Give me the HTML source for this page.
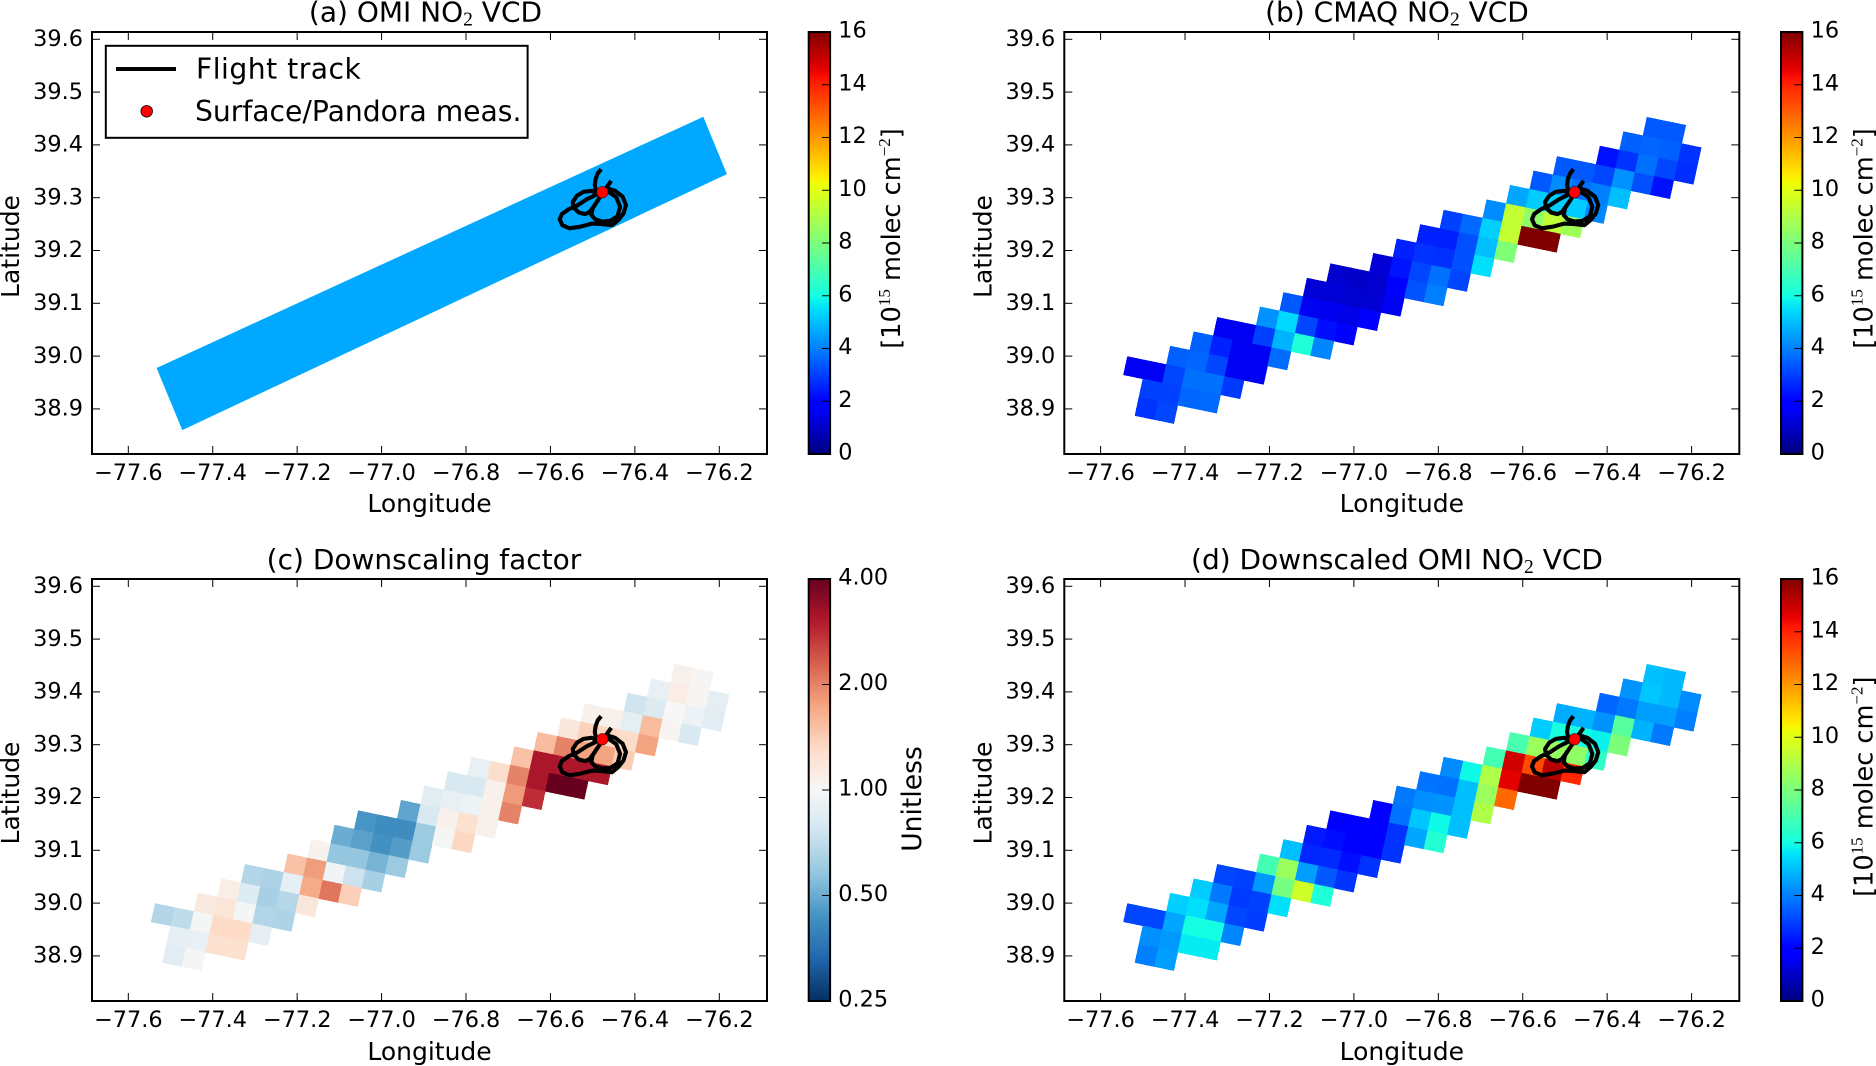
<!DOCTYPE html>
<html lang="en">
<head>
<meta charset="utf-8">
<title>OMI and CMAQ NO2 VCD downscaling maps</title>
<style>
html,body{margin:0;padding:0;background:#fff;width:1876px;height:1066px;overflow:hidden}
svg{display:block}
text{font-family:"DejaVu Sans","Liberation Sans",sans-serif;fill:#000}
.tick{font-size:22.4px}
.label{font-size:25px}
.cblabel{font-size:25.6px}
.unitless{font-size:26.6px}
.title{font-size:28px}
.legend{font-size:28.2px}
.cm{font-family:"Liberation Serif",serif}
</style>
</head>
<body>
<svg id="figure" xmlns="http://www.w3.org/2000/svg" width="1876" height="1066" viewBox="0 0 1876 1066">
  <defs>
    <linearGradient id="jet-gradient" x1="0" y1="1" x2="0" y2="0"></linearGradient>
    <linearGradient id="rdbu-gradient" x1="0" y1="1" x2="0" y2="0"></linearGradient>
  </defs>
  <rect width="1876" height="1066" fill="#fff"/>

  <g id="panel-a"></g>
  <g id="panel-b"></g>
  <g id="panel-c"></g>
  <g id="panel-d"></g>

  <text class="title" x="425.5" y="21.7" text-anchor="middle">(a) OMI NO<tspan class="cm" font-size="19.5" dy="4">2</tspan><tspan dy="-4"> VCD</tspan></text>
  <text class="title" x="1397" y="21.7" text-anchor="middle">(b) CMAQ NO<tspan class="cm" font-size="19.5" dy="4">2</tspan><tspan dy="-4"> VCD</tspan></text>
  <text class="title" x="424" y="569" text-anchor="middle">(c) Downscaling factor</text>
  <text class="title" x="1397" y="569" text-anchor="middle">(d) Downscaled OMI NO<tspan class="cm" font-size="19.5" dy="4">2</tspan><tspan dy="-4"> VCD</tspan></text>

  <text class="label" x="429.5" y="512" text-anchor="middle">Longitude</text>
  <text class="label" x="1401.8" y="512" text-anchor="middle">Longitude</text>
  <text class="label" x="429.5" y="1060" text-anchor="middle">Longitude</text>
  <text class="label" x="1401.8" y="1060" text-anchor="middle">Longitude</text>

  <text class="label" transform="translate(19,246.5) rotate(-90)" text-anchor="middle">Latitude</text>
  <text class="label" transform="translate(991.3,246.5) rotate(-90)" text-anchor="middle">Latitude</text>
  <text class="label" transform="translate(19,793) rotate(-90)" text-anchor="middle">Latitude</text>
  <text class="label" transform="translate(991.3,793) rotate(-90)" text-anchor="middle">Latitude</text>

  <text class="cblabel" transform="translate(900,238.5) rotate(-90)" text-anchor="middle">[10<tspan class="cm" font-size="17" dy="-10">15</tspan><tspan dy="10"> molec cm</tspan><tspan class="cm" font-size="17" dy="-10">−2</tspan><tspan dy="10">]</tspan></text>
  <text class="cblabel" transform="translate(1872.3,238.5) rotate(-90)" text-anchor="middle">[10<tspan class="cm" font-size="17" dy="-10">15</tspan><tspan dy="10"> molec cm</tspan><tspan class="cm" font-size="17" dy="-10">−2</tspan><tspan dy="10">]</tspan></text>
  <text class="unitless" transform="translate(921,799) rotate(-90)" text-anchor="middle">Unitless</text>
  <text class="cblabel" transform="translate(1872.3,786.7) rotate(-90)" text-anchor="middle">[10<tspan class="cm" font-size="17" dy="-10">15</tspan><tspan dy="10"> molec cm</tspan><tspan class="cm" font-size="17" dy="-10">−2</tspan><tspan dy="10">]</tspan></text>

  <g id="legend">
    <rect x="105.8" y="45.8" width="421.8" height="92" fill="#fff" stroke="#000" stroke-width="2"/>
    <line x1="116" y1="69" x2="176" y2="69" stroke="#000" stroke-width="4"/>
    <text class="legend" x="196" y="78.3" letter-spacing="0.5">Flight track</text>
    <circle cx="146.7" cy="111.3" r="5.8" fill="#f00" stroke="#000" stroke-width="0.8"/>
    <text class="legend" x="195" y="121">Surface/Pandora meas.</text>
  </g>
</svg>

<script>
// ----- Axis ticks -----
const lonTicks = [-77.6, -77.4, -77.2, -77.0, -76.8, -76.6, -76.4, -76.2];
const latTicks = [38.9, 39.0, 39.1, 39.2, 39.3, 39.4, 39.5, 39.6];
const vcdTicks = [0, 2, 4, 6, 8, 10, 12, 14, 16];
const factorTicks = [0.25, 0.5, 1, 2, 4];
const factorTickLabels = ["0.25", "0.50", "1.00", "2.00", "4.00"];

// ----- OMI pixel (panel a) -----
const omiValue = [4.65];
const omiCornerLon = [-77.533, -77.472, -76.182, -76.238];
const omiCornerLat = [38.9775, 38.8598, 39.3446, 39.4532];

// ----- Flight track & surface site -----
const trackLon = [-76.480,-76.488,-76.493,-76.495,-76.492,-76.487,-76.502,-76.522,-76.537,-76.547,-76.545,-76.533,-76.518,-76.507,-76.498,-76.486,-76.477,-76.494,-76.514,-76.537,-76.557,-76.573,-76.578,-76.572,-76.555,-76.529,-76.502,-76.478,-76.454,-76.439,-76.427,-76.421,-76.429,-76.447,-76.466,-76.477,-76.462,-76.444,-76.435,-76.441,-76.458,-76.478,-76.494,-76.503,-76.500,-76.486,-76.470,-76.456];
const trackLat = [39.354,39.346,39.335,39.324,39.313,39.307,39.313,39.311,39.304,39.292,39.281,39.272,39.269,39.273,39.283,39.297,39.310,39.305,39.297,39.285,39.278,39.269,39.259,39.248,39.242,39.245,39.251,39.250,39.248,39.258,39.270,39.286,39.302,39.313,39.318,39.310,39.311,39.301,39.283,39.265,39.256,39.255,39.259,39.267,39.280,39.297,39.316,39.332];
const siteLon = [-76.477];
const siteLat = [39.3103];

// ----- 4 km model grid: first populated row of each column, west to east -----
const firstColumn = -18;
const columnStartRow = [11,11,10,9,8,8,7,6,5,4,4,3,2,1,0,0,-1,-2,-3,-4,-4,-5,-6,-7,-7,-6];

// CMAQ NO2 VCD, 10^15 molec cm^-2 (panel b)
const cmaqValues = [
  [1.6],
  [1.6,3.0,2.8],
  [3.5,3.1,3.0,3.1],
  [3.5,3.6,3.75,3.6],
  [1.6,2.5,3.1,3.75,3.65],
  [1.6,1.6,1.6,2.9],
  [4.3,3.0,1.6,1.6],
  [3.4,5.4,4.8,3.7],
  [1.2,1.6,3.1,6.2],
  [1.1,1.2,1.55,2.2,4.1],
  [1.0,1.1,1.45,1.75],
  [1.2,1.1,1.15,1.9],
  [2.5,2.3,1.9,1.6],
  [2.5,2.8,3.1,3.3],
  [3.0,2.5,2.75,3.75,4.0],
  [3.65,3.25,3.25,3.1],
  [4.2,5.25,5.0,5.5],
  [4.6,9.4,9.4,8.1],
  [3.4,5.2,8.4,16],
  [3.4,4.2,5.2,9.3,16],
  [3.4,3.75,5.2,8.7],
  [2.25,3.1,4.0,4.1],
  [3.5,2.8,4.3,5.0],
  [3.4,3.6,3.75,3.25],
  [3.4,3.5,3.1,2.25],
  [2.8,2.7]
];

// Downscaling factor, unitless (panel c)
const factorValues = [
  [0.66],
  [0.70,0.88,0.85],
  [1.15,0.98,0.90,0.98],
  [1.10,1.20,1.32,1.25],
  [0.66,0.83,0.98,1.32,1.25],
  [0.65,0.63,0.66,0.87],
  [1.50,0.88,0.67,0.65],
  [1.05,1.80,1.70,1.17],
  [0.50,0.58,0.95,2.10],
  [0.44,0.47,0.58,0.74,1.40],
  [0.42,0.43,0.52,0.63],
  [0.48,0.42,0.46,0.60],
  [0.85,0.80,0.60,0.60],
  [0.80,0.90,1.07,0.98],
  [0.90,0.80,0.93,1.25,1.35],
  [1.28,1.07,1.07,1.07],
  [1.50,2.00,1.82,2.00],
  [1.55,3.10,3.10,2.80],
  [1.17,2.00,3.10,4.00],
  [1.07,1.38,1.75,3.10,4.00],
  [1.07,1.35,1.75,3.10],
  [0.75,0.87,1.30,1.42],
  [0.90,0.82,1.55,1.75],
  [1.07,1.10,1.00,1.03],
  [1.02,1.02,0.92,0.80],
  [0.87,0.85]
];

// Downscaled OMI NO2 VCD, 10^15 molec cm^-2 (panel d)
const downscaledValues = [
  [3.1],
  [3.1,4.25,4.0],
  [5.25,4.6,4.4,4.5],
  [5.2,5.5,6.0,5.7],
  [3.1,3.9,4.6,6.0,5.7],
  [3.0,2.9,3.1,4.1],
  [6.9,4.4,3.0,2.95],
  [5.0,8.6,7.9,5.5],
  [2.4,2.6,4.5,9.6],
  [1.9,2.2,2.65,3.4,6.2],
  [1.85,1.9,2.2,2.8],
  [2.0,1.9,2.0,2.8],
  [3.9,3.8,2.8,2.8],
  [3.8,4.25,5.1,4.6],
  [4.2,3.75,4.3,5.9,6.3],
  [5.9,5.0,5.0,5.0],
  [6.9,9.0,8.6,9.0],
  [7.0,14.9,14.6,12.8],
  [5.2,8.6,13.3,16],
  [4.7,6.1,8.5,15.2,16],
  [4.8,6.0,8.4,13.9],
  [3.6,4.3,5.8,6.5],
  [4.3,3.9,7.3,8.0],
  [5.0,5.1,4.5,4.8],
  [4.9,4.9,4.5,3.9],
  [4.2,4.0]
];

// Grid geometry in geographic units
const gridOrigin = {lon: -76.6026, lat: 39.2464};
const gridStepColumn = {lon: 0.04609, lat: -0.00757};
const gridStepRow = {lon: -0.00948, lat: -0.03485};

// Axis limits
const lonMin = -77.686, lonMax = -76.087;
const latMin = 38.8146, latMax = 39.6138;
const vcdMin = 0, vcdMax = 16;
const factorMin = 0.25, factorMax = 4;

// ----- Layout -----
const plotW = 675, plotH = 422;
const NS = "http://www.w3.org/2000/svg";
const fig = document.getElementById("figure");

function make(tag, attrs, parent) {
  const e = document.createElementNS(NS, tag);
  for (const k in attrs) e.setAttribute(k, attrs[k]);
  parent.appendChild(e);
  return e;
}

// ----- Colormaps -----
function lerp(pts, v) {
  if (v <= pts[0][0]) return pts[0][1];
  for (let i = 1; i < pts.length; i++) {
    if (v <= pts[i][0]) {
      const f = (v - pts[i-1][0]) / (pts[i][0] - pts[i-1][0]);
      return pts[i-1][1] + f * (pts[i][1] - pts[i-1][1]);
    }
  }
  return pts[pts.length-1][1];
}
const jetR = [[0,0],[0.35,0],[0.66,1],[0.89,1],[1,0.5]];
const jetG = [[0,0],[0.125,0],[0.375,1],[0.64,1],[0.91,0],[1,0]];
const jetB = [[0,0.5],[0.11,1],[0.34,1],[0.65,0],[1,0]];
function jet(t) {
  const c = [jetR, jetG, jetB].map(p => Math.round(255 * lerp(p, t)));
  return "rgb(" + c.join(",") + ")";
}
const rdbuStops = [[5,48,97],[33,102,172],[67,147,195],[146,197,222],[209,229,240],[247,247,247],[253,219,199],[244,165,130],[214,96,77],[178,24,43],[103,0,31]];
function rdbu(t) {
  const s = Math.max(0, Math.min(0.99999, t)) * 10;
  const i = Math.floor(s), f = s - i;
  const c = [0,1,2].map(k => Math.round(rdbuStops[i][k] + f * (rdbuStops[i+1][k] - rdbuStops[i][k])));
  return "rgb(" + c.join(",") + ")";
}
function vcdNorm(v) { return (v - vcdMin) / (vcdMax - vcdMin); }
function factorNorm(v) { return Math.log(v / factorMin) / Math.log(factorMax / factorMin); }

const jetGrad = document.getElementById("jet-gradient");
const rdbuGrad = document.getElementById("rdbu-gradient");
for (let k = 0; k <= 64; k++) {
  const t = k / 64;
  make("stop", {offset: t, "stop-color": jet(t)}, jetGrad);
  make("stop", {offset: t, "stop-color": rdbu(t)}, rdbuGrad);
}

// ----- Panel renderer -----
function drawPanel(groupId, left, top, kind, values) {
  const g = document.getElementById(groupId);
  const xScale = lon => left + (lon - lonMin) / (lonMax - lonMin) * plotW;
  const yScale = lat => top + (latMax - lat) / (latMax - latMin) * plotH;

  // data marks
  if (kind === "omi") {
    const pts = omiCornerLon.map((lon, i) => xScale(lon).toFixed(1) + "," + yScale(omiCornerLat[i]).toFixed(1)).join(" ");
    const pixel = make("polygon", {points: pts, fill: jet(vcdNorm(omiValue[0]))}, g);
    
    
  } else {
    const corner = (c, r) => {
      const lon = gridOrigin.lon + c * gridStepColumn.lon + r * gridStepRow.lon;
      const lat = gridOrigin.lat + c * gridStepColumn.lat + r * gridStepRow.lat;
      return xScale(lon).toFixed(2) + "," + yScale(lat).toFixed(2);
    };
    values.forEach((col, ci) => {
      const c = firstColumn + ci;
      col.forEach((v, ri) => {
        const r = columnStartRow[ci] + ri;
        const fill = kind === "factor" ? rdbu(factorNorm(v)) : jet(vcdNorm(v));
        const cell = make("polygon", {
          points: [corner(c, r), corner(c + 1, r), corner(c + 1, r + 1), corner(c, r + 1)].join(" "),
          fill: fill, stroke: fill, "stroke-width": 0.4, "shape-rendering": "crispEdges"
        }, g);
        
        
      });
    });
  }

  // flight track and site
  const trackPts = trackLon.map((lon, i) => xScale(lon).toFixed(1) + "," + yScale(trackLat[i]).toFixed(1)).join(" ");
  const track = make("polyline", {points: trackPts, fill: "none", stroke: "#000", "stroke-width": 4.1, "stroke-linejoin": "round", "stroke-linecap": "butt"}, g);
  
  
  const site = make("circle", {cx: xScale(siteLon[0]), cy: yScale(siteLat[0]), r: 5.8, fill: "#f00", stroke: "#000", "stroke-width": 0.5}, g);
  
  

  // x ticks
  lonTicks.forEach(v => {
    const x = xScale(v);
    const bottomTick = make("line", {x1: x, x2: x, y1: top + plotH, y2: top + plotH - 8, stroke: "#000", "stroke-width": 1}, g);
    
    
    const topTick = make("line", {x1: x, x2: x, y1: top, y2: top + 8, stroke: "#000", "stroke-width": 1}, g);
    
    
    const lab = make("text", {x: x, y: top + plotH + 26, "text-anchor": "middle", class: "tick"}, g);
    lab.textContent = "\u2212" + Math.abs(v).toFixed(1);
    
    
  });

  // y ticks
  latTicks.forEach(v => {
    const y = yScale(v);
    const leftTick = make("line", {x1: left, x2: left + 8, y1: y, y2: y, stroke: "#000", "stroke-width": 1}, g);
    
    
    const rightTick = make("line", {x1: left + plotW, x2: left + plotW - 8, y1: y, y2: y, stroke: "#000", "stroke-width": 1}, g);
    
    
    const lab = make("text", {x: left - 9, y: y + 6.7, "text-anchor": "end", class: "tick"}, g);
    lab.textContent = v.toFixed(1);
    
    
  });

  // axes frame
  const frame = make("rect", {x: left, y: top, width: plotW, height: plotH, fill: "none", stroke: "#000", "stroke-width": 2}, g);
  
  

  // colorbar
  const cbLeft = left + 716.7, cbW = 21.4;
  const isFactor = kind === "factor";
  const bar = make("rect", {x: cbLeft, y: top, width: cbW, height: plotH, fill: isFactor ? "url(#rdbu-gradient)" : "url(#jet-gradient)", stroke: "#000", "stroke-width": 2}, g);
  
  
  const ticks = isFactor ? factorTicks : vcdTicks;
  ticks.forEach((v, i) => {
    const t = isFactor ? factorNorm(v) : vcdNorm(v);
    const y = top + plotH - t * plotH;
    const tick = make("line", {x1: cbLeft + cbW, x2: cbLeft + cbW - 8, y1: y, y2: y, stroke: "#000", "stroke-width": 1}, g);
    
    
    const lab = make("text", {x: cbLeft + cbW + 8.2, y: y + 5.6, class: "tick"}, g);
    lab.textContent = isFactor ? factorTickLabels[i] : String(v);
    
    
  });
}

drawPanel("panel-a", 92, 32, "omi", null);
drawPanel("panel-b", 1064.3, 32, "vcd", cmaqValues);
drawPanel("panel-c", 92, 579, "factor", factorValues);
drawPanel("panel-d", 1064.3, 579, "vcd", downscaledValues);
</script>
</body>
</html>
